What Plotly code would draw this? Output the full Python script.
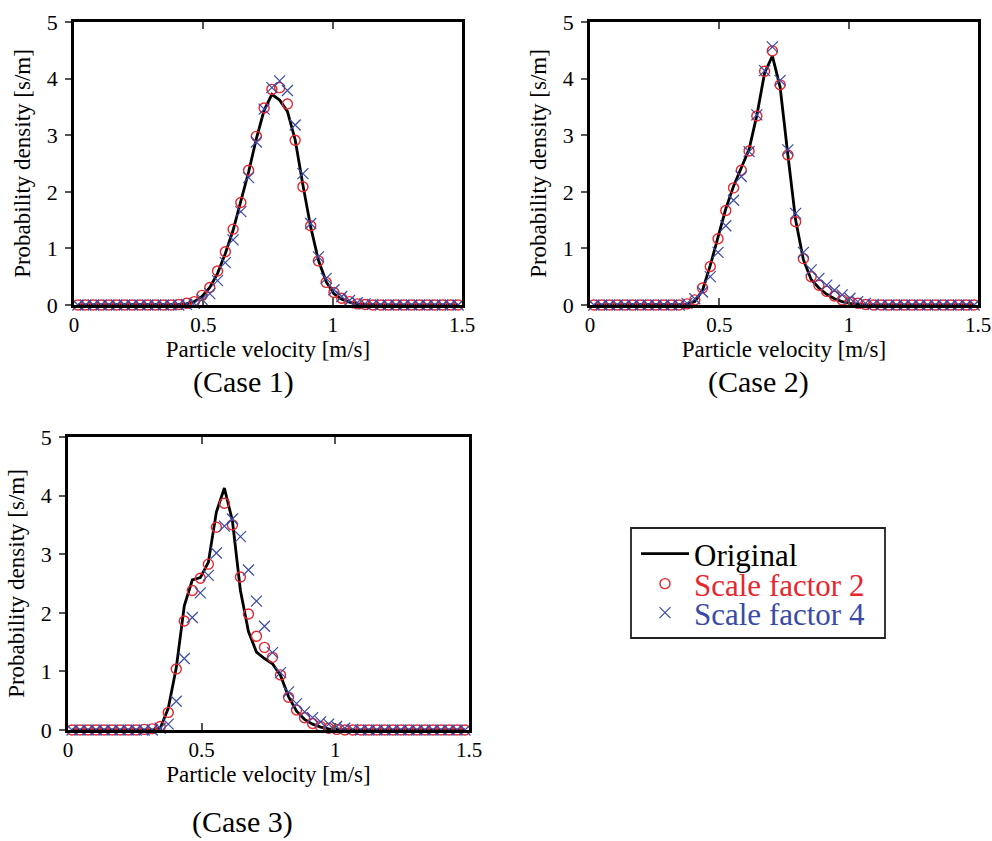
import plotly.graph_objects as go

# ---------------- data ----------------
velocity = [0.015, 0.045, 0.075, 0.105, 0.135, 0.165, 0.195, 0.225, 0.255, 0.285,
            0.315, 0.345, 0.375, 0.405, 0.435, 0.465, 0.495, 0.525, 0.555, 0.585,
            0.615, 0.645, 0.675, 0.705, 0.735, 0.765, 0.795, 0.825, 0.855, 0.885,
            0.915, 0.945, 0.975, 1.005, 1.035, 1.065, 1.095, 1.125, 1.155, 1.185,
            1.215, 1.245, 1.275, 1.305, 1.335, 1.365, 1.395, 1.425, 1.455, 1.485]

# Case 1
case1_original = [0, 0, 0, 0, 0, 0, 0, 0, 0, 0,
                  0, 0, 0, 0.01, 0.02, 0.06, 0.15, 0.31, 0.56, 0.91,
                  1.32, 1.82, 2.35, 2.94, 3.44, 3.72, 3.62, 3.42, 2.92, 2.12,
                  1.38, 0.79, 0.41, 0.20, 0.10, 0.05, 0.02, 0.01, 0, 0,
                  0, 0, 0, 0, 0, 0, 0, 0, 0, 0]
case1_scale2 = [0, 0, 0, 0, 0, 0, 0, 0, 0, 0,
                0, 0, 0, 0.01, 0.03, 0.06, 0.17, 0.31, 0.60, 0.94,
                1.34, 1.81, 2.38, 2.98, 3.48, 3.81, 3.84, 3.55, 2.91, 2.09,
                1.40, 0.78, 0.40, 0.22, 0.12, 0.06, 0.02, 0.01, 0, 0,
                0, 0, 0, 0, 0, 0, 0, 0, 0, 0]
case1_scale4 = [0, 0, 0, 0, 0, 0, 0, 0, 0, 0,
                0, 0, 0, 0, 0.01, 0.03, 0.10, 0.20, 0.43, 0.75,
                1.15, 1.65, 2.25, 2.88, 3.46, 3.84, 3.96, 3.79, 3.18, 2.32,
                1.44, 0.85, 0.47, 0.27, 0.15, 0.08, 0.04, 0.02, 0.01, 0,
                0, 0, 0, 0, 0, 0, 0, 0, 0, 0]

# Case 2
case2_original = [0, 0, 0, 0, 0, 0, 0, 0, 0, 0,
                  0, 0, 0.01, 0.06, 0.26, 0.70, 1.20, 1.70, 2.10, 2.42,
                  2.75, 3.35, 4.10, 4.40, 3.85, 2.65, 1.50, 0.80, 0.45, 0.30,
                  0.19, 0.11, 0.06, 0.03, 0.01, 0, 0, 0, 0, 0,
                  0, 0, 0, 0, 0, 0, 0, 0, 0, 0]
case2_scale2 = [0, 0, 0, 0, 0, 0, 0, 0, 0, 0,
                0, 0, 0.02, 0.09, 0.30, 0.68, 1.17, 1.67, 2.07, 2.38,
                2.72, 3.34, 4.13, 4.49, 3.89, 2.65, 1.47, 0.82, 0.50, 0.35,
                0.24, 0.16, 0.09, 0.05, 0.03, 0.01, 0, 0, 0, 0,
                0, 0, 0, 0, 0, 0, 0, 0, 0, 0]
case2_scale4 = [0, 0, 0, 0, 0, 0, 0, 0, 0, 0,
                0, 0, 0.03, 0.11, 0.23, 0.50, 0.93, 1.40, 1.85, 2.27,
                2.71, 3.36, 4.14, 4.56, 3.97, 2.74, 1.62, 0.93, 0.62, 0.47,
                0.35, 0.26, 0.18, 0.12, 0.06, 0.03, 0.01, 0, 0, 0,
                0, 0, 0, 0, 0, 0, 0, 0, 0, 0]

# Case 3
case3_original = [0, 0, 0, 0, 0, 0, 0, 0, 0, 0,
                  0, 0.03, 0.37, 1.06, 2.12, 2.56, 2.60, 2.86, 3.72, 4.13,
                  3.57, 2.38, 1.68, 1.33, 1.22, 1.13, 0.93, 0.57, 0.32, 0.18,
                  0.10, 0.05, 0.02, 0.01, 0, 0, 0, 0, 0, 0,
                  0, 0, 0, 0, 0, 0, 0, 0, 0, 0]
case3_scale2 = [0, 0, 0, 0, 0, 0, 0, 0, 0, 0.01,
                0.02, 0.06, 0.30, 1.04, 1.86, 2.38, 2.59, 2.83, 3.46, 3.87,
                3.50, 2.61, 1.98, 1.60, 1.41, 1.24, 0.94, 0.56, 0.34, 0.21,
                0.11, 0.06, 0.03, 0.01, 0, 0, 0, 0, 0, 0,
                0, 0, 0, 0, 0, 0, 0, 0, 0, 0]
case3_scale4 = [0, 0, 0, 0, 0, 0, 0, 0, 0, 0,
                0, 0.03, 0.10, 0.49, 1.22, 1.92, 2.34, 2.64, 3.02, 3.48,
                3.60, 3.30, 2.73, 2.20, 1.77, 1.32, 0.98, 0.65, 0.45, 0.31,
                0.21, 0.14, 0.10, 0.06, 0.03, 0.01, 0, 0, 0, 0,
                0, 0, 0, 0, 0, 0, 0, 0, 0, 0]

series_names = ["Original", "Scale factor 2", "Scale factor 4"]
case_titles = ["(Case 1)", "(Case 2)", "(Case 3)"]
x_tick_vals = [0, 0.5, 1, 1.5]
x_tick_text = ["0", "0.5", "1", "1.5"]
y_tick_vals = [0, 1, 2, 3, 4, 5]
y_tick_text = ["0", "1", "2", "3", "4", "5"]
x_title = "Particle velocity [m/s]"
y_title = "Probability density [s/m]"

cases = [
    (case1_original, case1_scale2, case1_scale4),
    (case2_original, case2_scale2, case2_scale4),
    (case3_original, case3_scale2, case3_scale4),
]

# ---------------- styling ----------------
W, H = 992, 841
FONT = "Liberation Serif, Times New Roman, serif"
RED = "#e8262d"
BLUE = "#3a4aa6"
BLACK = "#000000"
TICKGRAY = "#555555"

# pixel boxes of the three plotting areas (left, right, top, bottom)
boxes = [(74, 462, 22, 305), (590, 978, 22, 305), (68, 469, 437, 730)]

fig = go.Figure()

legend_ids = ["legend", "legend2", "legend3"]

for i, (orig, s2, s4) in enumerate(cases):
    xa = "x" if i == 0 else f"x{i+1}"
    ya = "y" if i == 0 else f"y{i+1}"
    show = i == 0
    fig.add_trace(go.Scatter(
        x=velocity, y=orig, mode="lines", name=series_names[0],
        line=dict(color=BLACK, width=2.8), xaxis=xa, yaxis=ya,
        showlegend=show, legend=legend_ids[0], cliponaxis=False))
    fig.add_trace(go.Scatter(
        x=velocity, y=s2, mode="markers", name=series_names[1],
        marker=dict(symbol="circle-open", size=10, color=RED,
                    line=dict(width=1.4, color=RED)),
        xaxis=xa, yaxis=ya, showlegend=show, legend=legend_ids[1],
        cliponaxis=False))
    fig.add_trace(go.Scatter(
        x=velocity, y=s4, mode="markers", name=series_names[2],
        marker=dict(symbol="x-thin-open", size=11, color=BLUE,
                    line=dict(width=1.2, color=BLUE)),
        xaxis=xa, yaxis=ya, showlegend=show, legend=legend_ids[2],
        cliponaxis=False))

layout = dict(
    width=W, height=H,
    margin=dict(l=0, r=0, t=0, b=0, pad=0, autoexpand=False),
    paper_bgcolor="white", plot_bgcolor="white",
    font=dict(family=FONT, color=BLACK),
    showlegend=True,
)

for i, (l, r, t, b) in enumerate(boxes):
    xk = "xaxis" if i == 0 else f"xaxis{i+1}"
    yk = "yaxis" if i == 0 else f"yaxis{i+1}"
    xa = "x" if i == 0 else f"x{i+1}"
    ya = "y" if i == 0 else f"y{i+1}"
    layout[xk] = dict(
        domain=[l / W, r / W], anchor=ya, range=[0, 1.5], automargin=False,
        tickvals=x_tick_vals, ticktext=x_tick_text,
        ticks="inside", ticklen=7, tickwidth=1.5, tickcolor=TICKGRAY,
        showline=True, linecolor=BLACK, linewidth=2.6, mirror="ticks",
        showgrid=False, zeroline=False,
        tickfont=dict(family=FONT, size=21, color=BLACK),
        ticklabelstandoff=-1,
        title=dict(text=x_title, font=dict(family=FONT, size=23, color=BLACK),
                   standoff=0),
    )
    layout[yk] = dict(
        domain=[1 - b / H, 1 - t / H], anchor=xa, range=[0, 5], automargin=False,
        tickvals=y_tick_vals, ticktext=y_tick_text,
        ticks="outside", ticklen=6, tickwidth=1.5, tickcolor=TICKGRAY,
        showline=True, linecolor=BLACK, linewidth=2.6, mirror=True,
        showgrid=False, zeroline=False,
        tickfont=dict(family=FONT, size=22, color=BLACK),
        ticklabelstandoff=3,
        title=dict(text=y_title, font=dict(family=FONT, size=23, color=BLACK),
                   standoff=10),
    )
    # right-hand inner ticks
    rk = f"yaxis{i+4}"
    layout[rk] = dict(
        overlaying=ya, anchor=xa, side="right", range=[0, 5], automargin=False,
        tickvals=[1, 2, 3, 4], ticks="inside", ticklen=7, tickwidth=1.5,
        tickcolor=TICKGRAY, showticklabels=False, showline=False,
        showgrid=False, zeroline=False,
    )

# legends (one row each, inside a common frame)
leg_rows = [554, 584, 613]
leg_colors = [BLACK, RED, BLUE]
for lid, row, col in zip(legend_ids, leg_rows, leg_colors):
    layout[lid] = dict(
        x=636 / W, y=1 - row / H, xanchor="left", yanchor="middle",
        bgcolor="rgba(0,0,0,0)", borderwidth=0, itemwidth=48,
        font=dict(family=FONT, size=31, color=col),
    )

fig.update_layout(**layout)

fig.add_shape(type="rect", xref="paper", yref="paper",
              x0=631 / W, x1=885 / W, y0=1 - 638 / H, y1=1 - 528 / H,
              line=dict(color="#222222", width=1.8), fillcolor="rgba(0,0,0,0)")

caption_pos = [(243, 382), (758, 382), (242, 822)]
for txt, (cx, cy) in zip(case_titles, caption_pos):
    fig.add_annotation(text=txt, x=cx / W, y=1 - cy / H, xref="paper", yref="paper",
                       showarrow=False, xanchor="center", yanchor="middle",
                       font=dict(family=FONT, size=30, color=BLACK))

fig.write_html("out.html",
               config={"displayModeBar": False},
               post_script="document.body.style.margin='0px';"
                           "document.body.style.overflow='hidden';")
